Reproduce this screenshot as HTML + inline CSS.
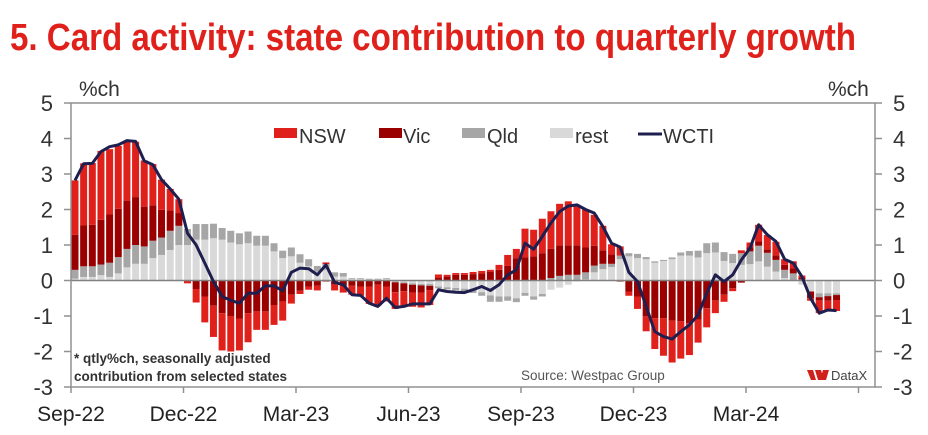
<!DOCTYPE html>
<html><head><meta charset="utf-8">
<style>
html,body{margin:0;padding:0;background:#fff;}
svg{display:block;font-family:"Liberation Sans",Arial,sans-serif;}
</style></head>
<body>
<svg id="chart" width="928" height="435" viewBox="0 0 928 435" xmlns="http://www.w3.org/2000/svg">
  <text x="10" y="50" font-family="'Liberation Sans Narrow','Liberation Sans',sans-serif" font-weight="bold" font-size="38" fill="#e0201b" textLength="846" lengthAdjust="spacingAndGlyphs">5. Card activity: state contribution to quarterly growth</text>
  <text x="79" y="96" font-size="21" fill="#333">%ch</text>
  <text x="828" y="96" font-size="21" fill="#333">%ch</text>
  <g id="bars"></g>
  <g id="axes"></g>
  <g id="line"></g>
  <g>
    <rect x="274" y="128" width="23" height="10" fill="#e0201b"/>
    <text x="299" y="143" font-size="20" fill="#333">NSW</text>
    <rect x="379" y="128" width="23" height="10" fill="#9b0000"/>
    <text x="403" y="143" font-size="20" fill="#333">Vic</text>
    <rect x="462" y="128" width="23" height="10" fill="#a6a6a6"/>
    <text x="487" y="143" font-size="20" fill="#333">Qld</text>
    <rect x="550" y="128" width="23" height="10" fill="#d9d9d9"/>
    <text x="575" y="143" font-size="20" fill="#333">rest</text>
    <line x1="638" y1="134" x2="662" y2="134" stroke="#1f1f4f" stroke-width="3"/>
    <text x="663" y="143" font-size="20" fill="#333">WCTI</text>
  </g>
  <text x="74" y="363" font-size="13.5" font-weight="bold" fill="#333">* qtly%ch, seasonally adjusted</text>
  <text x="74" y="381" font-size="13.5" font-weight="bold" fill="#333">contribution from selected states</text>
  <text x="521" y="380" font-size="13.5" fill="#555">Source: Westpac Group</text>
  <g>
    <polygon points="807,370 813,370 816,380 811,380" fill="#d0201b"/>
    <polygon points="815,370 821,370 824,380 818,380" fill="#d0201b"/>
    <polygon points="823,370 829,370 826,380 820,380" fill="#d0201b"/>
    <text x="831" y="380" font-size="13" fill="#444">DataX</text>
  </g>
</svg>
<script>
const categories = ["Sep-22","Dec-22","Mar-23","Jun-23","Sep-23","Dec-23","Mar-24",""];
const yTicks = [5,4,3,2,1,0,-1,-2,-3];
const nsw = [1.53,1.75,1.74,1.94,1.84,1.77,1.67,1.56,1.3,1.16,0.85,0.61,0.39,-0.08,-0.38,-0.73,-0.88,-1.05,-1.0,-0.9,-0.82,-0.52,-0.52,-0.56,-0.54,-0.25,-0.09,-0.09,-0.13,0.05,-0.16,-0.2,-0.25,-0.26,-0.49,-0.59,-0.42,-0.47,-0.4,-0.4,-0.42,-0.42,0.1,0.05,0.05,0.05,0.06,0.07,0.05,0.14,0.31,0.26,0.81,0.75,0.97,1.06,1.17,1.24,1.14,1.07,0.87,0.69,0.28,0.26,-0.12,-0.35,-0.42,-0.87,-1.06,-1.18,-1.05,-0.9,-0.65,-0.54,-0.36,-0.2,-0.08,0.08,0.13,0.47,0.4,0.38,0.16,0.2,0.07,-0.07,-0.36,-0.26,-0.31];
const vic = [0.99,1.15,1.17,1.26,1.36,1.36,1.36,1.35,1.12,1.0,0.78,0.57,0.36,0,-0.24,-0.45,-0.71,-0.92,-1.0,-1.07,-0.92,-0.87,-0.87,-0.69,-0.59,-0.4,-0.29,-0.17,-0.15,-0.03,-0.12,-0.14,-0.15,-0.17,-0.17,-0.12,-0.17,-0.28,-0.22,-0.22,-0.2,-0.12,0.07,0.11,0.16,0.16,0.18,0.2,0.25,0.3,0.41,0.63,0.65,0.68,0.77,0.82,0.86,0.83,0.83,0.7,0.56,0.38,0.27,-0.03,-0.31,-0.45,-1.01,-1.06,-1.06,-1.13,-1.15,-1.2,-1.1,-0.78,-0.56,-0.4,-0.22,-0.06,0.12,0.12,0.1,0.13,0.14,0.14,0.04,-0.19,-0.09,-0.13,-0.14];
const qld = [0.25,0.3,0.3,0.3,0.4,0.46,0.52,0.53,0.49,0.49,0.49,0.54,0.54,0.45,0.44,0.44,0.41,0.33,0.33,0.31,0.33,0.28,0.28,0.23,0.21,0.25,0.24,0.2,0.16,0.16,0.12,0.1,0.02,0.02,0.02,0.02,0.02,-0.02,-0.03,-0.04,-0.04,-0.05,-0.05,-0.06,-0.07,-0.07,-0.08,-0.1,-0.18,-0.15,-0.12,-0.11,-0.08,-0.09,-0.07,0.07,0.13,0.16,0.16,0.2,0.19,0.15,0.09,0.1,0.09,0.12,0.06,0.04,0.03,0.05,0.09,0.13,0.19,0.28,0.28,0.25,0.26,0.33,0.36,0.44,0.39,0.33,0.23,0.2,0.03,0,-0.11,-0.08,-0.05];
const rest = [0.05,0.1,0.1,0.15,0.1,0.2,0.37,0.47,0.47,0.63,0.72,0.86,1.0,1.0,1.15,1.15,1.19,1.15,1.07,1.02,1.05,0.98,0.98,0.82,0.63,0.68,0.5,0.4,0.25,0.3,0.11,0.11,0.05,0.05,0.03,0.03,0.05,-0.03,-0.05,-0.08,-0.1,-0.1,-0.17,-0.19,-0.21,-0.23,-0.27,-0.33,-0.42,-0.45,-0.45,-0.5,-0.35,-0.45,-0.38,-0.26,-0.2,-0.12,-0.03,0.03,0.23,0.32,0.38,0.6,0.68,0.63,0.6,0.5,0.55,0.6,0.7,0.7,0.65,0.77,0.79,0.55,0.49,0.44,0.46,0.54,0.39,0.25,0.07,0,-0.12,-0.31,-0.36,-0.36,-0.36];
const wcti = [2.82,3.29,3.3,3.63,3.77,3.82,3.94,3.92,3.37,3.26,2.84,2.58,2.29,1.33,1.0,0.49,-0.03,-0.45,-0.56,-0.64,-0.36,-0.36,-0.15,-0.15,-0.29,0.23,0.35,0.33,0.16,0.44,-0.05,-0.12,-0.4,-0.42,-0.64,-0.73,-0.5,-0.76,-0.73,-0.66,-0.66,-0.66,-0.26,-0.31,-0.33,-0.34,-0.26,-0.17,-0.28,-0.12,0.16,0.3,1.05,0.88,1.24,1.62,1.94,2.1,2.13,2.0,1.9,1.52,1.05,0.94,0.23,-0.03,-0.73,-1.44,-1.58,-1.65,-1.44,-1.25,-0.97,-0.36,0.16,-0.03,0.16,0.58,0.91,1.57,1.29,1.1,0.6,0.49,0.11,-0.5,-0.92,-0.83,-0.85];

const NS = "http://www.w3.org/2000/svg";
const L = 71, R = 875, T = 103, B = 387;
const yMin = -3, yMax = 5;
const qW = 112.5, wk = qW / 13;
function yScale(v){ return B - (v - yMin) / (yMax - yMin) * (B - T); }
function xBar(i){ return 75 + i * wk; }
function mk(tag, attrs, parent){
  const e = document.createElementNS(NS, tag);
  for (const k in attrs) e.setAttribute(k, attrs[k]);
  parent.appendChild(e);
  return e;
}
const barsG = document.getElementById('bars');
const axesG = document.getElementById('axes');
const lineG = document.getElementById('line');
const series = [["rest", rest, "#d9d9d9"], ["qld", qld, "#a6a6a6"], ["vic", vic, "#9b0000"], ["nsw", nsw, "#e0201b"]];
const bw = 7;
for (let i = 0; i < wcti.length; i++) {
  let pos = 0, neg = 0;
  for (const s of series) {
    const v = s[1][i];
    if (!v) continue;
    let y0, y1;
    if (v > 0) { y0 = pos; y1 = pos + v; pos = y1; }
    else { y0 = neg; y1 = neg + v; neg = y1; }
    const top = Math.min(yScale(y0), yScale(y1));
    const h = Math.abs(yScale(y0) - yScale(y1));
    const r = mk('rect', {x: (xBar(i) - bw/2).toFixed(2), y: top.toFixed(2), width: bw, height: h.toFixed(2), fill: s[2]}, barsG);
    
    
  }
}
// axes
const zl = mk('line', {x1: L, x2: R, y1: yScale(0), y2: yScale(0), stroke: '#808080', 'stroke-width': 1.5}, axesG);


const frame = mk('path', {d: `M${L},${B} L${L},${T} L${R},${T} L${R},${B} L${L},${B}`, fill: 'none', stroke: '#909090', 'stroke-width': 1.5}, axesG);


for (const t of yTicks) {
  const y = yScale(t);
  mk('line', {x1: L - 7, x2: L, y1: y, y2: y, stroke: '#909090', 'stroke-width': 1.5}, axesG);
  mk('line', {x1: R, x2: R + 7, y1: y, y2: y, stroke: '#909090', 'stroke-width': 1.5}, axesG);
  const lt = mk('text', {x: 53, y: y + 8, 'text-anchor': 'end', 'font-size': 22, fill: '#333'}, axesG);
  lt.textContent = t;
  
  
  const rt = mk('text', {x: 893, y: y + 8, 'text-anchor': 'start', 'font-size': 22, fill: '#333'}, axesG);
  rt.textContent = t;
  
  
}
categories.forEach((c, k) => {
  const x = L + k * qW;
  mk('line', {x1: x, x2: x, y1: B, y2: B + 6, stroke: '#909090', 'stroke-width': 1.5}, axesG);
  if (c) {
    const tx = mk('text', {x: x, y: B + 34, 'text-anchor': 'middle', 'font-size': 21, fill: '#222'}, axesG);
    tx.textContent = c;
    
    
  }
});
// line
const pts = wcti.map((v, i) => xBar(i).toFixed(2) + ',' + yScale(v).toFixed(2)).join(' ');
const pl = mk('polyline', {points: pts, fill: 'none', stroke: '#1f1f4f', 'stroke-width': 3, 'stroke-linejoin': 'round'}, lineG);


</script>
</body></html>
